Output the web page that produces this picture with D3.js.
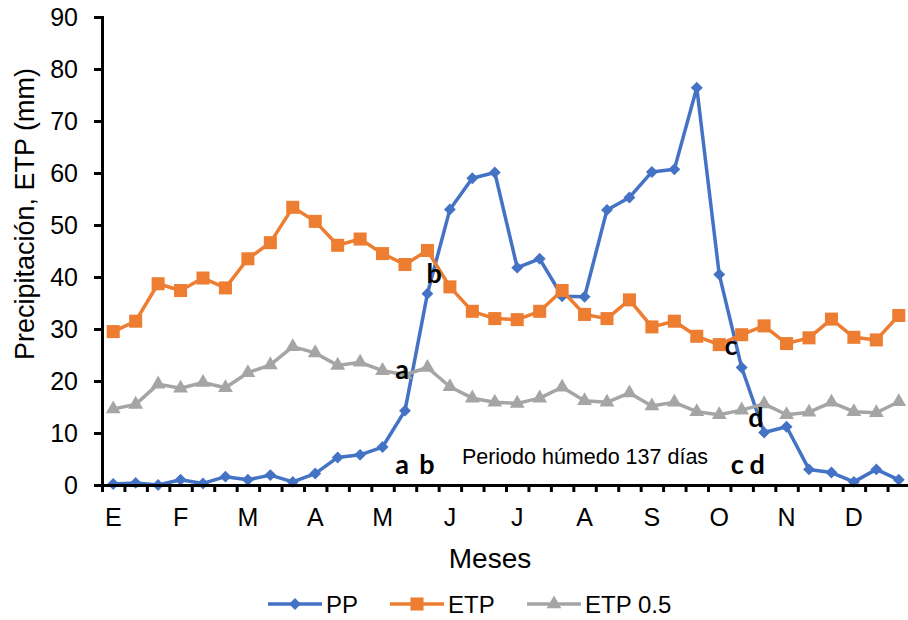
<!DOCTYPE html>
<html>
<head>
<meta charset="utf-8">
<script src="https://cdn.jsdelivr.net/npm/d3@7/dist/d3.min.js"></script>
<style>
  body { margin: 0; background: #fff; }
  svg { display: block; font-family: "Liberation Sans", Arial, sans-serif; }
</style>
</head>
<body>
<svg id="chart" width="908" height="620"></svg>
<script>
// decades (3 per month), only the first of each month carries a label
const months = ['E', 'F', 'M', 'A', 'M', 'J', 'J', 'A', 'S', 'O', 'N', 'D'];
const decades = d3.range(36);
const yTicks = [0, 10, 20, 30, 40, 50, 60, 70, 80, 90];

const pp = [0.2, 0.4, 0.0, 1.0, 0.3, 1.6, 1.0, 1.9, 0.6, 2.2, 5.3, 5.8,
  7.3, 14.3, 36.8, 53.0, 59.0, 60.1, 41.8, 43.5, 36.3, 36.2, 52.9, 55.3,
  60.2, 60.7, 76.4, 40.5, 22.6, 10.1, 11.2, 3.0, 2.4, 0.6, 3.0, 1.0];
const etp = [29.5, 31.5, 38.7, 37.4, 39.8, 37.9, 43.5, 46.6, 53.4, 50.7, 46.1, 47.3,
  44.5, 42.4, 45.1, 38.1, 33.4, 32.0, 31.8, 33.4, 37.4, 32.8, 32.0, 35.6,
  30.4, 31.5, 28.6, 27.0, 28.9, 30.6, 27.2, 28.3, 31.9, 28.4, 27.9, 32.6];
const etpHalf = [14.6, 15.5, 19.4, 18.6, 19.7, 18.7, 21.6, 23.1, 26.6, 25.4, 23.0, 23.6,
  22.0, 21.2, 22.6, 18.9, 16.7, 15.9, 15.7, 16.7, 18.8, 16.2, 15.9, 17.7,
  15.2, 15.9, 14.1, 13.5, 14.4, 15.6, 13.5, 14.0, 15.9, 14.1, 13.9, 16.0];

const series = [
  { name: 'PP', values: pp, color: '#4472C4', symbol: d3.symbolDiamond2, size: 90 },
  { name: 'ETP', values: etp, color: '#ED7D31', symbol: d3.symbolSquare, size: 170 },
  { name: 'ETP 0.5', values: etpHalf, color: '#A5A5A5', symbol: d3.symbolTriangle, size: 95 }
];

// annotation letters: [text, decade position, value at baseline]
const marks = [
  ['a', 13.37, 20.4], ['b', 14.8, 38.85], ['a', 13.37, 2.1], ['b', 14.48, 2.1],
  ['c', 28.03, 25.0], ['d', 29.14, 11.15], ['c', 28.3, 2.1], ['d', 29.19, 2.1]
];
const periodLabel = 'Periodo húmedo 137 días';

const svg = d3.select('#chart');
const plotLeft = 102, plotRight = 910, plotTop = 17, plotBottom = 485;

const x = d3.scaleBand().domain(decades).range([plotLeft, plotRight]);
const xEdge = d3.scaleLinear().domain([0, 36]).range([plotLeft, plotRight]);
const y = d3.scaleLinear().domain([0, 90]).range([plotBottom, plotTop]);
const cx = i => x(i) + x.bandwidth() / 2;

// y axis
const yAxis = svg.append('g')
  .attr('transform', `translate(${plotLeft},0)`)
  .call(d3.axisLeft(y).tickValues(yTicks).tickSize(8).tickPadding(16));
yAxis.select('.domain').attr('stroke', '#000').attr('stroke-width', 3);
yAxis.selectAll('.tick line').attr('stroke', '#000').attr('stroke-width', 3);
yAxis.selectAll('.tick text')
  .attr('fill', '#000')
  .style('font-size', '25px')
  .style('font-family', '"Liberation Sans", Arial, sans-serif');

// series lines and markers
const line = d3.line().x((d, i) => cx(i)).y(d => y(d));
series.forEach(s => {
  svg.append('path')
    .datum(s.values)
    .attr('fill', 'none')
    .attr('stroke', s.color)
    .attr('stroke-width', 3.5)
    .attr('stroke-linejoin', 'round')
    .attr('d', line);
  svg.append('g')
    .selectAll('path')
    .data(s.values)
    .join('path')
    .attr('transform', (d, i) => `translate(${cx(i)},${y(d)})`)
    .attr('d', d3.symbol(s.symbol, s.size))
    .attr('fill', s.color);
});

// x axis (drawn after lines so it sits on top)
const xAxis = svg.append('g')
  .attr('transform', `translate(0,${plotBottom})`)
  .call(d3.axisBottom(xEdge).tickValues(d3.range(37)).tickSize(7).tickSizeOuter(0).tickFormat(''));
xAxis.select('.domain').attr('stroke', '#000').attr('stroke-width', 3);
xAxis.selectAll('.tick line').attr('stroke', '#000').attr('stroke-width', 3);

svg.append('g')
  .selectAll('text')
  .data(months)
  .join('text')
  .attr('x', (d, i) => cx(i * 3))
  .attr('y', 526)
  .attr('text-anchor', 'middle')
  .style('font-size', '25px')
  .text(d => d);

// axis titles
svg.append('text')
  .attr('x', 490)
  .attr('y', 568)
  .attr('text-anchor', 'middle')
  .style('font-size', '28px')
  .text('Meses');
svg.append('text')
  .attr('transform', 'translate(34,214) rotate(-90)')
  .attr('text-anchor', 'middle')
  .style('font-size', '27px')
  .text('Precipitación, ETP (mm)');

// annotations
svg.append('g')
  .selectAll('text')
  .data(marks)
  .join('text')
  .attr('x', d => xEdge(d[1]))
  .attr('y', d => y(d[2]))
  .attr('text-anchor', 'middle')
  .style('font-family', 'Lato, "Open Sans", sans-serif')
  .style('font-weight', 'bold')
  .style('font-size', '27px')
  .text(d => d[0]);
svg.append('text')
  .attr('x', 585)
  .attr('y', 464)
  .attr('text-anchor', 'middle')
  .style('font-size', '21.5px')
  .text(periodLabel);

// legend
const legend = svg.append('g').attr('transform', 'translate(268,604)');
const legendX = [0, 122, 259];
series.forEach((s, i) => {
  const g = legend.append('g').attr('transform', `translate(${legendX[i]},0)`);
  g.append('line')
    .attr('x1', 0).attr('x2', 54)
    .attr('stroke', s.color)
    .attr('stroke-width', 3.5);
  g.append('path')
    .attr('transform', 'translate(27,0)')
    .attr('d', d3.symbol(s.symbol, s.size))
    .attr('fill', s.color);
  g.append('text')
    .attr('x', 58)
    .attr('y', 8.5)
    .style('font-size', '24px')
    .text(s.name);
});
</script>
</body>
</html>
